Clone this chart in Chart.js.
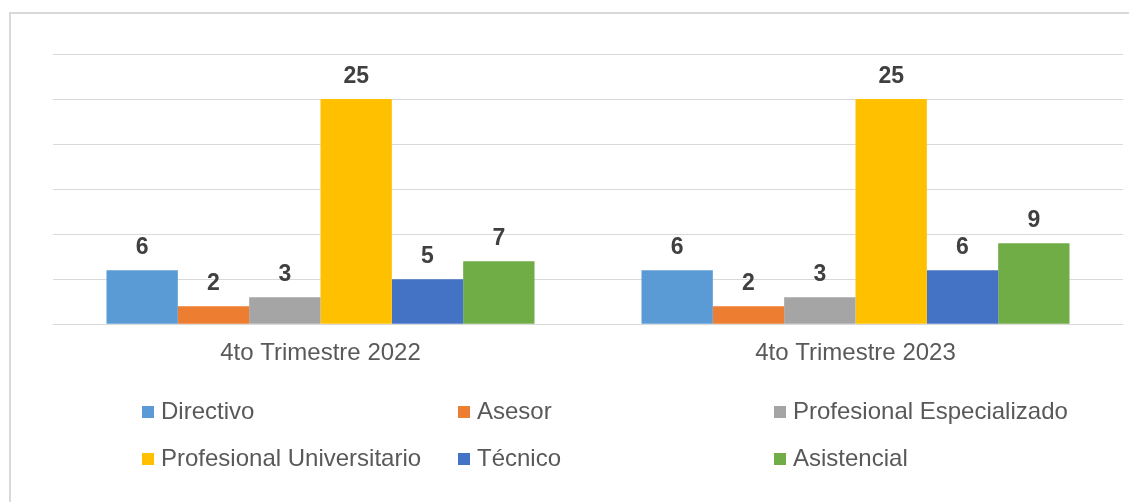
<!DOCTYPE html>
<html>
<head>
<meta charset="utf-8">
<script src="https://cdn.jsdelivr.net/npm/chart.js@4.4.1/dist/chart.umd.min.js"></script>
<style>
  html, body { margin: 0; padding: 0; background: #ffffff; }
  #wrap { position: relative; width: 1129px; height: 502px; overflow: hidden; }
  #frame { position: absolute; left: 9px; top: 12px; width: 1200px; height: 600px;
           border-left: 2px solid #D9D9D9; border-top: 2px solid #D9D9D9; box-sizing: border-box; }
  canvas { position: absolute; left: 0; top: 0; }
</style>
</head>
<body>
<div id="wrap">
  <div id="frame"></div>
  <canvas id="c" width="1129" height="502"></canvas>
</div>
<script>
const categories = ["4to Trimestre 2022", "4to Trimestre 2023"];
const seriesNames = ["Directivo", "Asesor", "Profesional Especializado", "Profesional Universitario", "Técnico", "Asistencial"];
const directivo = [6, 6];
const asesor = [2, 2];
const profesionalEspecializado = [3, 3];
const profesionalUniversitario = [25, 25];
const tecnico = [5, 6];
const asistencial = [7, 9];
const seriesColors = ["#5B9BD5", "#ED7D31", "#A5A5A5", "#FFC000", "#4472C4", "#70AD47"];
const yMin = 0, yMax = 30, yStep = 5;

const seriesValues = [directivo, asesor, profesionalEspecializado, profesionalUniversitario, tecnico, asistencial];

const FONT = "'Liberation Sans', Arial, sans-serif";

const valueLabels = {
  id: 'valueLabels',
  afterDatasetsDraw(chart) {
    const ctx = chart.ctx;
    ctx.save();
    ctx.font = "bold 23px " + FONT;
    ctx.fillStyle = "#404040";
    ctx.textAlign = "center";
    ctx.textBaseline = "alphabetic";
    chart.data.datasets.forEach((ds, i) => {
      const meta = chart.getDatasetMeta(i);
      meta.data.forEach((el, j) => {
        ctx.fillText(String(ds.data[j]), el.x, el.y - 16);
      });
    });
    ctx.restore();
  }
};

const gridLegend = {
  id: 'gridLegend',
  afterDraw(chart) {
    const ctx = chart.ctx;
    ctx.save();
    ctx.font = "24px " + FONT;
    ctx.textBaseline = "middle";
    ctx.textAlign = "left";
    const colX = [142, 458, 774];
    const rowY = [412, 459];
    chart.data.datasets.forEach((ds, i) => {
      const x = colX[i % 3];
      const y = rowY[Math.floor(i / 3)];
      ctx.fillStyle = ds.backgroundColor;
      ctx.fillRect(x, y - 6, 12, 12);
      ctx.fillStyle = "#595959";
      ctx.fillText(ds.label, x + 19, y);
    });
    ctx.restore();
  }
};

new Chart(document.getElementById('c'), {
  type: 'bar',
  data: {
    labels: categories,
    datasets: seriesNames.map((name, i) => ({
      label: name,
      data: seriesValues[i],
      backgroundColor: seriesColors[i],
      borderWidth: 0,
      categoryPercentage: 0.8,
      barPercentage: 1.0
    }))
  },
  options: {
    responsive: false,
    animation: false,
    devicePixelRatio: 1,
    layout: { padding: { left: 53, right: 6, top: 54, bottom: 119 } },
    plugins: { legend: { display: false }, tooltip: { enabled: false } },
    scales: {
      x: {
        grid: { display: false, drawTicks: false },
        border: { display: false },
        ticks: { font: { size: 24, family: FONT }, color: "#595959", padding: 15 }
      },
      y: {
        min: yMin, max: yMax,
        ticks: { stepSize: yStep, display: false },
        grid: { color: "#D9D9D9", lineWidth: 1, drawTicks: false },
        border: { display: false },
        afterFit(scale) { scale.width = 0; }
      }
    }
  },
  plugins: [valueLabels, gridLegend]
});
</script>
</body>
</html>
